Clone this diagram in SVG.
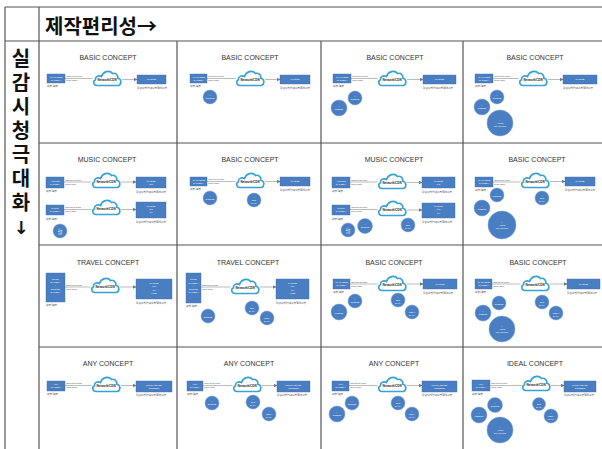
<svg xmlns="http://www.w3.org/2000/svg" xmlns:xlink="http://www.w3.org/1999/xlink" width="602" height="449" viewBox="0 0 602 449">
<style>
.hd{font-family:"Noto Sans CJK KR","Liberation Sans",sans-serif;font-weight:bold;font-size:20px;fill:#111}
.vt{writing-mode:vertical-rl;letter-spacing:4px}
.ttl{font-family:"Liberation Sans",sans-serif;font-size:7px;fill:#333;text-anchor:middle}
.bx{fill:#4A7EC2;stroke:#3C6BAE;stroke-width:0.4}
.bt{font-family:"Liberation Sans",sans-serif;font-size:2.5px;fill:#fff;text-anchor:middle}
.sm{font-family:"Liberation Sans","Noto Sans CJK KR",sans-serif;font-size:2.6px;fill:#333}
.lk{font-family:"Liberation Sans",sans-serif;font-size:2.4px;fill:#444}
.ci{fill:#4A7EC2;stroke:#7CA3DA;stroke-width:0.5}
.ct{font-family:"Liberation Sans","Noto Sans CJK KR",sans-serif;font-size:2.4px;fill:#fff;text-anchor:middle}
.cl{fill:#fff;stroke:#35A2D3;stroke-width:1.6}
.nt{font-family:"Liberation Sans",sans-serif;font-size:3px;font-weight:bold;fill:#222;text-anchor:middle}
.ln{stroke:#777;stroke-width:0.5;fill:none}
.ar{marker-end:url(#ah)}
.grid line{stroke:#555;stroke-width:1.2}
</style>
<defs>
<path id="cloud" class="cl" d="M5,16.5 C1.5,16.5 0.5,12 3.5,10.8 C3,7.5 6.5,6 9.5,7.6 C11,2.5 17.5,0.5 20.5,4.5 C23.5,3.5 26.5,6 25.8,9.2 C29.5,9.8 30,15 26.5,16.5 Z"/>
<marker id="ah" markerWidth="4" markerHeight="4" refX="3.5" refY="2" orient="auto" markerUnits="userSpaceOnUse"><path d="M0,0 L4,2 L0,4 z" fill="#777"/></marker>
</defs>
<rect width="602" height="449" fill="#fff"/>
<g class="grid" id="grid">
<line x1="5" y1="7" x2="602" y2="7"/>
<line x1="5" y1="7" x2="5" y2="449"/>
<line x1="39" y1="7" x2="39" y2="449"/>
<line x1="5" y1="41" x2="602" y2="41"/>
<line x1="177" y1="41" x2="177" y2="449"/>
<line x1="321" y1="41" x2="321" y2="449"/>
<line x1="463" y1="41" x2="463" y2="449"/>
<line x1="39" y1="143" x2="602" y2="143"/>
<line x1="39" y1="245" x2="602" y2="245"/>
<line x1="39" y1="347" x2="602" y2="347"/>
</g>
<g id="header"><text class="hd" x="45" y="34">제작편리성→</text></g>
<g id="side"><text class="hd vt" x="21" y="48">실감시청극대화</text><text x="21" y="234" text-anchor="middle" style="font-family:'DejaVu Sans',sans-serif;font-weight:bold;font-size:18px;fill:#111">↓</text></g>

<!-- Row 1 -->
<g id="c11" transform="translate(39,41)">
<text class="ttl" x="69" y="19">BASIC CONCEPT</text>
<g id="c11-links"><line class="ln" x1="26" y1="37.5" x2="53.5" y2="37.5"/><line class="ln ar" x1="83" y1="38.5" x2="98" y2="38.5"/><text class="lk" x="27.2" y="36.3">Non-Real-Time</text><text class="lk" x="27.2" y="40.3">Real-Time</text></g>
<g id="c11-cam"><rect class="bx" x="8" y="33" width="18" height="9"/><text class="bt" x="17" y="36.8">4K PHONE</text><text class="bt" x="17" y="39.8">CAMERA</text><text class="sm" x="8" y="46">내부 /외부</text></g>
<g id="c11-net"><use xlink:href="#cloud" x="53" y="28"/><text class="nt" x="68" y="39.5">Network/CDN</text></g>
<g id="c11-out"><rect class="bx" x="98" y="34" width="29" height="9"/><text class="bt" x="112.5" y="39.4">PHONE</text><text class="sm" x="98" y="48">감성시청/참여시청/몰입시청</text></g>
</g>

<g id="c12" transform="translate(177,41)">
<text class="ttl" x="73" y="19">BASIC CONCEPT</text>
<g id="c12-links"><line class="ln" x1="30" y1="37.5" x2="58.5" y2="37.5"/><line class="ln ar" x1="88" y1="38.5" x2="103" y2="38.5"/><text class="lk" x="31.2" y="36.3">Non-Real-Time</text><text class="lk" x="31.2" y="40.3">Real-Time</text></g>
<g id="c12-cam"><rect class="bx" x="13" y="33" width="17" height="9"/><text class="bt" x="21.5" y="36.8">4K PHONE</text><text class="bt" x="21.5" y="39.8">CAMERA</text><text class="sm" x="13" y="46">내부 /외부</text></g>
<g id="c12-net"><use xlink:href="#cloud" x="58" y="28"/><text class="nt" x="73" y="39.5">Network/CDN</text></g>
<g id="c12-out"><rect class="bx" x="103" y="34" width="30" height="9"/><text class="bt" x="118" y="39.4">PHONE</text><text class="sm" x="103" y="48">감성시청/참여시청/몰입시청</text></g>
<g id="c12-drone"><circle class="ci" cx="33" cy="56" r="7"/><text class="ct" x="33" y="55.2">+</text><text class="ct" x="33" y="58.2">DRONE</text></g>
</g>

<g id="c13" transform="translate(321,41)">
<text class="ttl" x="74" y="19">BASIC CONCEPT</text>
<g id="c13-links"><line class="ln" x1="30" y1="37.5" x2="56.5" y2="37.5"/><line class="ln ar" x1="86" y1="38.5" x2="102" y2="38.5"/><text class="lk" x="31.2" y="36.3">Non-Real-Time</text><text class="lk" x="31.2" y="40.3">Real-Time</text></g>
<g id="c13-cam"><rect class="bx" x="12" y="33" width="18" height="9"/><text class="bt" x="21" y="36.8">4K PHONE</text><text class="bt" x="21" y="39.8">CAMERA</text><text class="sm" x="12" y="46">내부 /외부</text></g>
<g id="c13-net"><use xlink:href="#cloud" x="56" y="28"/><text class="nt" x="71" y="39.5">Network/CDN</text></g>
<g id="c13-out"><rect class="bx" x="102" y="34" width="33" height="9"/><text class="bt" x="118.5" y="39.4">PHONE</text><text class="sm" x="102" y="48">감성시청/참여시청/몰입시청</text></g>
<g id="c13-drone"><circle class="ci" cx="34" cy="57" r="7"/><text class="ct" x="34" y="56.2">+</text><text class="ct" x="34" y="59.2">DRONE</text></g>
<g id="c13-robot"><circle class="ci" cx="18" cy="67" r="8"/><text class="ct" x="18" y="66.2">+</text><text class="ct" x="18" y="69.2">ROBOT</text></g>
</g>

<g id="c14" transform="translate(463,41)">
<text class="ttl" x="72" y="19">BASIC CONCEPT</text>
<g id="c14-links"><line class="ln" x1="30" y1="37.5" x2="55.5" y2="37.5"/><line class="ln ar" x1="85" y1="38.5" x2="100" y2="38.5"/><text class="lk" x="31.2" y="36.3">Non-Real-Time</text><text class="lk" x="31.2" y="40.3">Real-Time</text></g>
<g id="c14-cam"><rect class="bx" x="12" y="33" width="18" height="9"/><text class="bt" x="21" y="36.8">4K PHONE</text><text class="bt" x="21" y="39.8">CAMERA</text><text class="sm" x="12" y="46">내부 /외부</text></g>
<g id="c14-net"><use xlink:href="#cloud" x="55" y="28"/><text class="nt" x="70" y="39.5">Network/CDN</text></g>
<g id="c14-out"><rect class="bx" x="100" y="34" width="34" height="9"/><text class="bt" x="117" y="39.4">PHONE</text><text class="sm" x="100" y="48">감성시청/참여시청/몰입시청</text></g>
<g id="c14-drone"><circle class="ci" cx="34" cy="56" r="7"/><text class="ct" x="34" y="55.2">+</text><text class="ct" x="34" y="58.2">DRONE</text></g>
<g id="c14-robot"><circle class="ci" cx="19" cy="66" r="8"/><text class="ct" x="19" y="65.2">+</text><text class="ct" x="19" y="68.2">ROBOT</text></g>
<g id="c14-auto"><circle class="ci" cx="37" cy="82" r="13"/><text class="ct" x="37" y="79.6">+</text><text class="ct" x="37" y="82.6">AUTO</text><text class="ct" x="37" y="85.6">TRACKING</text></g>
</g>

<!-- Row 2 -->
<g id="c21" transform="translate(39,143)">
<text class="ttl" x="68" y="19">MUSIC CONCEPT</text>
<g id="c21-links"><line class="ln" x1="25" y1="39" x2="52.5" y2="39"/><line class="ln ar" x1="82" y1="39" x2="97" y2="39"/><text class="lk" x="26.2" y="37.8">Non-Real-Time</text><text class="lk" x="26.2" y="41.8">Real-Time</text>
<line class="ln" x1="25" y1="66.5" x2="52.5" y2="66.5"/><line class="ln ar" x1="82" y1="66.5" x2="97" y2="66.5"/><text class="lk" x="26.2" y="65.3">Non-Real-Time</text><text class="lk" x="26.2" y="69.3">Real-Time</text></g>
<g id="c21-cam1"><rect class="bx" x="7" y="34" width="18" height="11"/><text class="bt" x="16" y="38.6">ACTION</text><text class="bt" x="16" y="41.6">CAMERA</text><text class="sm" x="7" y="49">내부 /외부</text></g>
<g id="c21-net1"><use xlink:href="#cloud" x="52" y="28"/><text class="nt" x="67" y="39.5">Network/CDN</text></g>
<g id="c21-out1"><rect class="bx" x="97" y="34" width="30" height="11"/><text class="bt" x="112" y="38.6">PHONE</text><text class="bt" x="112" y="41.6">PC</text><text class="sm" x="97" y="50">감성시청/참여시청/몰입시청</text></g>
<g id="c21-cam2"><rect class="bx" x="7" y="62" width="18" height="10"/><text class="bt" x="16" y="66.2">MULTI</text><text class="bt" x="16" y="69.2">CAMERA</text><text class="sm" x="7" y="76.5">내부 /외부</text></g>
<g id="c21-net2"><use xlink:href="#cloud" x="52" y="55"/><text class="nt" x="67" y="66.5">Network/CDN</text></g>
<g id="c21-out2"><rect class="bx" x="97" y="59" width="30" height="16"/><text class="bt" x="112" y="63.6">PHONE</text><text class="bt" x="112" y="66.8">PC</text><text class="bt" x="112" y="70">TV</text><text class="sm" x="97" y="80">감성시청/참여시청/몰입시청</text></g>
<g id="c21-sound"><circle class="ci" cx="21" cy="88" r="7"/><text class="ct" x="21" y="86.2">+</text><text class="ct" x="21" y="89">음향</text><text class="ct" x="21" y="91.8">기술</text></g>
</g>

<g id="c22" transform="translate(177,143)">
<text class="ttl" x="73" y="19">BASIC CONCEPT</text>
<g id="c22-links"><line class="ln" x1="30" y1="38.5" x2="58.5" y2="38.5"/><line class="ln ar" x1="88" y1="38.5" x2="103" y2="38.5"/><text class="lk" x="31.2" y="37.3">Non-Real-Time</text><text class="lk" x="31.2" y="41.3">Real-Time</text></g>
<g id="c22-cam"><rect class="bx" x="13" y="34" width="17" height="9"/><text class="bt" x="21.5" y="37.8">4K PHONE</text><text class="bt" x="21.5" y="40.8">CAMERA</text><text class="sm" x="13" y="47">내부 /외부</text></g>
<g id="c22-net"><use xlink:href="#cloud" x="58" y="28"/><text class="nt" x="73" y="39.5">Network/CDN</text></g>
<g id="c22-out"><rect class="bx" x="103" y="34" width="30" height="9"/><text class="bt" x="118" y="39.4">PHONE</text><text class="sm" x="103" y="48">감성시청/참여시청/몰입시청</text></g>
<g id="c22-drone"><circle class="ci" cx="33" cy="55" r="7"/><text class="ct" x="33" y="54.2">+</text><text class="ct" x="33" y="57.2">DRONE</text></g>
<g id="c22-big"><circle class="ci" cx="77" cy="57" r="7"/><text class="ct" x="77" y="55.2">+</text><text class="ct" x="77" y="58">BIG</text><text class="ct" x="77" y="60.8">DATA</text></g>
</g>

<g id="c23" transform="translate(321,143)">
<text class="ttl" x="73" y="19">MUSIC CONCEPT</text>
<g id="c23-links"><line class="ln" x1="29" y1="39" x2="56.5" y2="39"/><line class="ln ar" x1="86" y1="39.5" x2="101" y2="39.5"/><text class="lk" x="30.2" y="37.8">Non-Real-Time</text><text class="lk" x="30.2" y="41.8">Real-Time</text>
<line class="ln" x1="29" y1="66.5" x2="56.5" y2="66.5"/><line class="ln ar" x1="86" y1="67" x2="101" y2="67"/><text class="lk" x="30.2" y="65.3">Non-Real-Time</text><text class="lk" x="30.2" y="69.3">Real-Time</text></g>
<g id="c23-cam1"><rect class="bx" x="11" y="34" width="18" height="11"/><text class="bt" x="20" y="38.6">ACTION</text><text class="bt" x="20" y="41.6">CAMERA</text><text class="sm" x="11" y="49">내부 /외부</text></g>
<g id="c23-net1"><use xlink:href="#cloud" x="56" y="29"/><text class="nt" x="71" y="40.5">Network/CDN</text></g>
<g id="c23-out1"><rect class="bx" x="101" y="34" width="33" height="11"/><text class="bt" x="117.5" y="38.6">PHONE</text><text class="bt" x="117.5" y="41.6">PC</text><text class="sm" x="101" y="50">감성시청/참여시청/몰입시청</text></g>
<g id="c23-cam2"><rect class="bx" x="11" y="62" width="18" height="10"/><text class="bt" x="20" y="66.2">MULTI</text><text class="bt" x="20" y="69.2">CAMERA</text><text class="sm" x="11" y="76.5">내부 /외부</text></g>
<g id="c23-net2"><use xlink:href="#cloud" x="56" y="56"/><text class="nt" x="71" y="67.5">Network/CDN</text></g>
<g id="c23-out2"><rect class="bx" x="101" y="60" width="33" height="15"/><text class="bt" x="117.5" y="64.2">PHONE</text><text class="bt" x="117.5" y="67.4">PC</text><text class="bt" x="117.5" y="70.6">TV</text><text class="sm" x="101" y="79.5">감성시청/참여시청/몰입시청</text></g>
<g id="c23-sound"><circle class="ci" cx="27" cy="87" r="7"/><text class="ct" x="27" y="85.2">+</text><text class="ct" x="27" y="88">음향</text><text class="ct" x="27" y="90.8">기술</text></g>
<g id="c23-drone"><circle class="ci" cx="44" cy="83" r="7.5"/><text class="ct" x="44" y="82.2">+</text><text class="ct" x="44" y="85.2">DRONE</text></g>
<g id="c23-big"><circle class="ci" cx="87" cy="82" r="7"/><text class="ct" x="87" y="80.2">+</text><text class="ct" x="87" y="83">BIG</text><text class="ct" x="87" y="85.8">DATA</text></g>
</g>

<g id="c24" transform="translate(463,143)">
<text class="ttl" x="74" y="19">BASIC CONCEPT</text>
<g id="c24-links"><line class="ln" x1="30" y1="39" x2="57.5" y2="39"/><line class="ln ar" x1="87" y1="38.5" x2="102" y2="38.5"/><text class="lk" x="31.2" y="37.8">Non-Real-Time</text><text class="lk" x="31.2" y="41.8">Real-Time</text></g>
<g id="c24-cam"><rect class="bx" x="12" y="34" width="18" height="10"/><text class="bt" x="21" y="38.2">4K PHONE</text><text class="bt" x="21" y="41.2">CAMERA</text><text class="sm" x="12" y="48">내부 /외부</text></g>
<g id="c24-net"><use xlink:href="#cloud" x="57" y="28"/><text class="nt" x="72" y="39.5">Network/CDN</text></g>
<g id="c24-out"><rect class="bx" x="102" y="34" width="30" height="9"/><text class="bt" x="117" y="39.4">PHONE</text><text class="sm" x="102" y="48">감성시청/참여시청/몰입시청</text></g>
<g id="c24-drone"><circle class="ci" cx="34" cy="52" r="7"/><text class="ct" x="34" y="51.2">+</text><text class="ct" x="34" y="54.2">DRONE</text></g>
<g id="c24-robot"><circle class="ci" cx="19" cy="65" r="8"/><text class="ct" x="19" y="64.2">+</text><text class="ct" x="19" y="67.2">ROBOT</text></g>
<g id="c24-auto"><circle class="ci" cx="39" cy="82" r="14"/><text class="ct" x="39" y="79.6">+</text><text class="ct" x="39" y="82.6">AUTO</text><text class="ct" x="39" y="85.6">TRACKING</text></g>
<g id="c24-big"><circle class="ci" cx="79" cy="55" r="7"/><text class="ct" x="79" y="53.2">+</text><text class="ct" x="79" y="56">BIG</text><text class="ct" x="79" y="58.8">DATA</text></g>
</g>

<!-- Row 3 -->
<g id="c31" transform="translate(39,245)">
<text class="ttl" x="69" y="19.5">TRAVEL CONCEPT</text>
<g id="c31-links"><line class="ln" x1="26" y1="42" x2="51.5" y2="42"/><line class="ln ar" x1="81" y1="42" x2="97" y2="42"/><text class="lk" x="27.2" y="40.8">Non-Real-Time</text><text class="lk" x="27.2" y="44.8">Real-Time</text></g>
<g id="c31-cam"><rect class="bx" x="7" y="28" width="19" height="29"/><text class="bt" x="16.5" y="35">SPOT</text><text class="bt" x="16.5" y="38.2">CAMERA</text><text class="bt" x="16.5" y="41.4">+</text><text class="bt" x="16.5" y="44.6">DRONE</text><text class="bt" x="16.5" y="47.8">CAMERA</text><text class="sm" x="7" y="61">내부 /외부</text></g>
<g id="c31-net"><use xlink:href="#cloud" x="51" y="31"/><text class="nt" x="66" y="42.5">Network/CDN</text></g>
<g id="c31-out"><rect class="bx" x="97" y="34" width="36" height="20"/><text class="bt" x="115" y="39.2">PHONE</text><text class="bt" x="115" y="42.4">PC</text><text class="bt" x="115" y="45.6">TV</text><text class="bt" x="115" y="48.8">HMD</text><text class="sm" x="97" y="58.5">감성시청/참여시청/몰입시청</text></g>
</g>

<g id="c32" transform="translate(177,245)">
<text class="ttl" x="71" y="19.5">TRAVEL CONCEPT</text>
<g id="c32-links"><line class="ln" x1="24" y1="42" x2="53.5" y2="42"/><line class="ln ar" x1="83" y1="42" x2="99" y2="42"/><text class="lk" x="25.2" y="40.8">Non-Real-Time</text><text class="lk" x="25.2" y="44.8">Real-Time</text></g>
<g id="c32-cam"><rect class="bx" x="9" y="28" width="15" height="30"/><text class="bt" x="16.5" y="35.4">SPOT</text><text class="bt" x="16.5" y="38.6">CAMERA</text><text class="bt" x="16.5" y="41.8">+</text><text class="bt" x="16.5" y="45">DRONE</text><text class="bt" x="16.5" y="48.2">CAMERA</text><text class="sm" x="9" y="62">내부 /외부</text></g>
<g id="c32-net"><use xlink:href="#cloud" x="53" y="32"/><text class="nt" x="68" y="43.5">Network/CDN</text></g>
<g id="c32-out"><rect class="bx" x="99" y="34" width="33" height="20"/><text class="bt" x="115.5" y="39.2">PHONE</text><text class="bt" x="115.5" y="42.4">PC</text><text class="bt" x="115.5" y="45.6">TV</text><text class="bt" x="115.5" y="48.8">HMD</text><text class="sm" x="99" y="58.5">감성시청/참여시청/몰입시청</text></g>
<g id="c32-drone"><circle class="ci" cx="31" cy="71" r="7"/><text class="ct" x="31" y="70.2">+</text><text class="ct" x="31" y="73.2">DRONE</text></g>
<g id="c32-big"><circle class="ci" cx="75" cy="63" r="7"/><text class="ct" x="75" y="61.2">+</text><text class="ct" x="75" y="64">BIG</text><text class="ct" x="75" y="66.8">DATA</text></g>
<g id="c32-meta"><circle class="ci" cx="90" cy="73" r="7"/><text class="ct" x="90" y="71.2">+</text><text class="ct" x="90" y="74">META</text><text class="ct" x="90" y="76.8">DATA</text></g>
</g>

<g id="c33" transform="translate(321,245)">
<text class="ttl" x="73" y="19.5">BASIC CONCEPT</text>
<g id="c33-links"><line class="ln" x1="29" y1="39" x2="56.5" y2="39"/><line class="ln ar" x1="86" y1="39" x2="102" y2="39"/><text class="lk" x="30.2" y="37.8">Non-Real-Time</text><text class="lk" x="30.2" y="41.8">Real-Time</text></g>
<g id="c33-cam"><rect class="bx" x="12" y="34" width="17" height="10"/><text class="bt" x="20.5" y="38.2">4K PHONE</text><text class="bt" x="20.5" y="41.2">CAMERA</text><text class="sm" x="12" y="48">내부 /외부</text></g>
<g id="c33-net"><use xlink:href="#cloud" x="56" y="29"/><text class="nt" x="71" y="40.5">Network/CDN</text></g>
<g id="c33-out"><rect class="bx" x="102" y="34" width="34" height="10"/><text class="bt" x="119" y="39.9">PHONE</text><text class="sm" x="102" y="48.5">감성시청/참여시청/몰입시청</text></g>
<g id="c33-drone"><circle class="ci" cx="34" cy="56" r="7"/><text class="ct" x="34" y="55.2">+</text><text class="ct" x="34" y="58.2">DRONE</text></g>
<g id="c33-robot"><circle class="ci" cx="18" cy="67" r="8"/><text class="ct" x="18" y="66.2">+</text><text class="ct" x="18" y="69.2">ROBOT</text></g>
<g id="c33-big"><circle class="ci" cx="77" cy="55" r="7"/><text class="ct" x="77" y="53.2">+</text><text class="ct" x="77" y="56">BIG</text><text class="ct" x="77" y="58.8">DATA</text></g>
<g id="c33-meta"><circle class="ci" cx="91" cy="67" r="7"/><text class="ct" x="91" y="65.2">+</text><text class="ct" x="91" y="68">META</text><text class="ct" x="91" y="70.8">DATA</text></g>
</g>

<g id="c34" transform="translate(463,245)">
<text class="ttl" x="75" y="19.5">BASIC CONCEPT</text>
<g id="c34-links"><line class="ln" x1="29" y1="39" x2="57.5" y2="39"/><line class="ln ar" x1="87" y1="39" x2="104" y2="39"/><text class="lk" x="30.2" y="37.8">Non-Real-Time</text><text class="lk" x="30.2" y="41.8">Real-Time</text></g>
<g id="c34-cam"><rect class="bx" x="12" y="34" width="17" height="10"/><text class="bt" x="20.5" y="38.2">4K PHONE</text><text class="bt" x="20.5" y="41.2">CAMERA</text><text class="sm" x="12" y="48">내부 /외부</text></g>
<g id="c34-net"><use xlink:href="#cloud" x="57" y="29"/><text class="nt" x="72" y="40.5">Network/CDN</text></g>
<g id="c34-out"><rect class="bx" x="104" y="34" width="33" height="10"/><text class="bt" x="120.5" y="39.9">PHONE</text><text class="sm" x="104" y="48.5">감성시청/참여시청/몰입시청</text></g>
<g id="c34-drone"><circle class="ci" cx="36" cy="58" r="7"/><text class="ct" x="36" y="57.2">+</text><text class="ct" x="36" y="60.2">DRONE</text></g>
<g id="c34-robot"><circle class="ci" cx="20" cy="68" r="8"/><text class="ct" x="20" y="67.2">+</text><text class="ct" x="20" y="70.2">ROBOT</text></g>
<g id="c34-auto"><circle class="ci" cx="39" cy="84" r="13"/><text class="ct" x="39" y="81.6">+</text><text class="ct" x="39" y="84.6">AUTO</text><text class="ct" x="39" y="87.6">TRACKING</text></g>
<g id="c34-big"><circle class="ci" cx="79" cy="57" r="7"/><text class="ct" x="79" y="55.2">+</text><text class="ct" x="79" y="58">BIG</text><text class="ct" x="79" y="60.8">DATA</text></g>
<g id="c34-meta"><circle class="ci" cx="93" cy="68" r="7"/><text class="ct" x="93" y="66.2">+</text><text class="ct" x="93" y="69">META</text><text class="ct" x="93" y="71.8">DATA</text></g>
</g>

<!-- Row 4 -->
<g id="c41" transform="translate(39,347)">
<text class="ttl" x="69" y="18.5">ANY CONCEPT</text>
<g id="c41-links"><line class="ln" x1="26" y1="38.5" x2="52.5" y2="38.5"/><line class="ln ar" x1="82" y1="38.5" x2="97" y2="38.5"/><text class="lk" x="27.2" y="37.3">Non-Real-Time</text><text class="lk" x="27.2" y="41.3">Real-Time</text></g>
<g id="c41-cam"><rect class="bx" x="8" y="34" width="18" height="10"/><text class="bt" x="17" y="38.2">ANY</text><text class="bt" x="17" y="41.2">CAMERA</text><text class="sm" x="8" y="48">내부 /외부</text></g>
<g id="c41-net"><use xlink:href="#cloud" x="52" y="28"/><text class="nt" x="67" y="39.5">Network/CDN</text></g>
<g id="c41-out"><rect class="bx" x="97" y="34" width="36" height="11"/><text class="bt" x="115" y="38.7">MULTI-LEVEL</text><text class="bt" x="115" y="41.7">SCREEN</text><text class="sm" x="97" y="49">감성시청/참여시청/몰입시청</text></g>
</g>

<g id="c42" transform="translate(177,347)">
<text class="ttl" x="72" y="18.5">ANY CONCEPT</text>
<g id="c42-links"><line class="ln" x1="26" y1="38.5" x2="55.5" y2="38.5"/><line class="ln ar" x1="85" y1="38.5" x2="100" y2="38.5"/><text class="lk" x="27.2" y="37.3">Non-Real-Time</text><text class="lk" x="27.2" y="41.3">Real-Time</text></g>
<g id="c42-cam"><rect class="bx" x="10" y="34" width="16" height="10"/><text class="bt" x="18" y="38.2">ANY</text><text class="bt" x="18" y="41.2">CAMERA</text><text class="sm" x="10" y="48">내부 /외부</text></g>
<g id="c42-net"><use xlink:href="#cloud" x="55" y="28"/><text class="nt" x="70" y="39.5">Network/CDN</text></g>
<g id="c42-out"><rect class="bx" x="100" y="34" width="33" height="11"/><text class="bt" x="116.5" y="38.7">MULTI-LEVEL</text><text class="bt" x="116.5" y="41.7">SCREEN</text><text class="sm" x="100" y="49">감성시청/참여시청/몰입시청</text></g>
<g id="c42-drone"><circle class="ci" cx="35" cy="56" r="7"/><text class="ct" x="35" y="55.2">+</text><text class="ct" x="35" y="58.2">DRONE</text></g>
<g id="c42-big"><circle class="ci" cx="76" cy="55" r="7"/><text class="ct" x="76" y="53.2">+</text><text class="ct" x="76" y="56">BIG</text><text class="ct" x="76" y="58.8">DATA</text></g>
<g id="c42-meta"><circle class="ci" cx="92" cy="67" r="7"/><text class="ct" x="92" y="65.2">+</text><text class="ct" x="92" y="68">META</text><text class="ct" x="92" y="70.8">DATA</text></g>
</g>

<g id="c43" transform="translate(321,347)">
<text class="ttl" x="73" y="18.5">ANY CONCEPT</text>
<g id="c43-links"><line class="ln" x1="28" y1="38.5" x2="56.5" y2="38.5"/><line class="ln ar" x1="86" y1="38.5" x2="101" y2="38.5"/><text class="lk" x="29.2" y="37.3">Non-Real-Time</text><text class="lk" x="29.2" y="41.3">Real-Time</text></g>
<g id="c43-cam"><rect class="bx" x="11" y="34" width="17" height="10"/><text class="bt" x="19.5" y="38.2">ANY</text><text class="bt" x="19.5" y="41.2">CAMERA</text><text class="sm" x="11" y="48">내부 /외부</text></g>
<g id="c43-net"><use xlink:href="#cloud" x="56" y="28"/><text class="nt" x="71" y="39.5">Network/CDN</text></g>
<g id="c43-out"><rect class="bx" x="101" y="34" width="35" height="11"/><text class="bt" x="118.5" y="38.7">MULTI-LEVEL</text><text class="bt" x="118.5" y="41.7">SCREEN</text><text class="sm" x="101" y="49">감성시청/참여시청/몰입시청</text></g>
<g id="c43-drone"><circle class="ci" cx="31" cy="56" r="7"/><text class="ct" x="31" y="55.2">+</text><text class="ct" x="31" y="58.2">DRONE</text></g>
<g id="c43-robot"><circle class="ci" cx="16" cy="67" r="8"/><text class="ct" x="16" y="66.2">+</text><text class="ct" x="16" y="69.2">ROBOT</text></g>
<g id="c43-big"><circle class="ci" cx="77" cy="56" r="7"/><text class="ct" x="77" y="54.2">+</text><text class="ct" x="77" y="57">BIG</text><text class="ct" x="77" y="59.8">DATA</text></g>
<g id="c43-meta"><circle class="ci" cx="91" cy="67" r="7"/><text class="ct" x="91" y="65.2">+</text><text class="ct" x="91" y="68">META</text><text class="ct" x="91" y="70.8">DATA</text></g>
</g>

<g id="c44" transform="translate(463,347)">
<text class="ttl" x="72" y="18.5">IDEAL CONCEPT</text>
<g id="c44-links"><line class="ln" x1="27" y1="38.5" x2="58.5" y2="38.5"/><line class="ln ar" x1="88" y1="38.5" x2="101" y2="38.5"/><text class="lk" x="28.2" y="37.3">Non-Real-Time</text><text class="lk" x="28.2" y="41.3">Real-Time</text></g>
<g id="c44-cam"><rect class="bx" x="9" y="33" width="18" height="11"/><text class="bt" x="18" y="37.6">ANY</text><text class="bt" x="18" y="40.6">CAMERA</text><text class="sm" x="9" y="48">내부 /외부</text></g>
<g id="c44-net"><use xlink:href="#cloud" x="58" y="27"/><text class="nt" x="73" y="38.5">Network/CDN</text></g>
<g id="c44-out"><rect class="bx" x="101" y="34" width="32" height="11"/><text class="bt" x="117" y="38.7">MULTI-LEVEL</text><text class="bt" x="117" y="41.7">SCREEN</text><text class="sm" x="101" y="49">감성시청/참여시청/몰입시청</text></g>
<g id="c44-drone"><circle class="ci" cx="32" cy="58" r="7.5"/><text class="ct" x="32" y="57.2">+</text><text class="ct" x="32" y="60.2">DRONE</text></g>
<g id="c44-robot"><circle class="ci" cx="16" cy="68" r="8"/><text class="ct" x="16" y="67.2">+</text><text class="ct" x="16" y="70.2">ROBOT</text></g>
<g id="c44-auto"><circle class="ci" cx="37" cy="83" r="13"/><text class="ct" x="37" y="80.6">+</text><text class="ct" x="37" y="83.6">AUTO</text><text class="ct" x="37" y="86.6">TRACKING</text></g>
<g id="c44-big"><circle class="ci" cx="76" cy="57" r="6.5"/><text class="ct" x="76" y="55.2">+</text><text class="ct" x="76" y="58">BIG</text><text class="ct" x="76" y="60.8">DATA</text></g>
<g id="c44-meta"><circle class="ci" cx="88" cy="69" r="7"/><text class="ct" x="88" y="67.2">+</text><text class="ct" x="88" y="70">META</text><text class="ct" x="88" y="72.8">DATA</text></g>
</g>
</svg>
